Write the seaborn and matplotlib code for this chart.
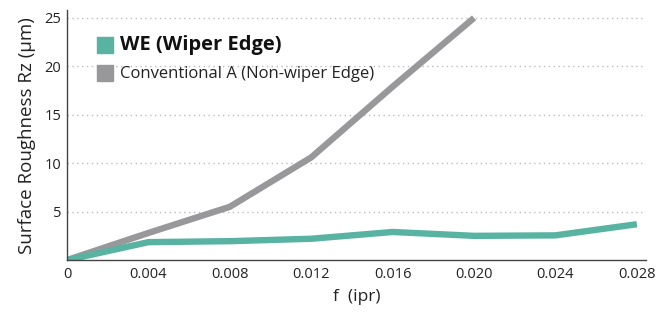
import matplotlib
matplotlib.use("Agg")
import matplotlib.pyplot as plt
import seaborn as sns
import pandas as pd
from matplotlib.lines import Line2D

feed = [0.0, 0.004, 0.008, 0.012, 0.016, 0.020, 0.024, 0.028]
we_values = [0.0, 1.85, 1.95, 2.2, 2.9, 2.5, 2.55, 3.7]
conv_feed = [0.0, 0.004, 0.008, 0.012, 0.016, 0.020]
conv_values = [0.0, 2.8, 5.5, 10.6, 17.9, 25.0]
series_names = ["WE (Wiper Edge)", "Conventional A (Non-wiper Edge)"]
colors = ["#58b3a3", "#98989b"]
x_ticks = [0.0, 0.004, 0.008, 0.012, 0.016, 0.020, 0.024, 0.028]
x_tick_labels = ["0", "0.004", "0.008", "0.012", "0.016", "0.020", "0.024", "0.028"]
y_ticks = [5, 10, 15, 20, 25]

sns.set_style("white")
plt.rcParams["font.family"] = ["Open Sans", "DejaVu Sans"]

df = pd.concat([
    pd.DataFrame({"f": conv_feed, "Rz": conv_values, "series": series_names[1]}),
    pd.DataFrame({"f": feed, "Rz": we_values, "series": series_names[0]}),
])

fig = plt.figure(figsize=(6.57, 3.16), dpi=100)
ax = fig.add_axes([0.102, 0.177, 0.881, 0.791])

for y in y_ticks:
    ax.axhline(y, color="#bbbbbb", lw=1.0, ls=(0, (1, 2.5)), zorder=0)

sns.lineplot(data=df, x="f", y="Rz", hue="series",
             palette={series_names[0]: colors[0], series_names[1]: colors[1]},
             linewidth=4.6, ax=ax, legend=False, sort=False)
for ln in ax.lines:
    ln.set_solid_capstyle("butt")

ax.set_xlim(0, 0.02844)
ax.set_ylim(0, 25.8)
ax.set_xticks(x_ticks)
ax.set_xticklabels(x_tick_labels)
ax.set_yticks(y_ticks)
ax.tick_params(axis="both", length=0, labelsize=10.5, colors="#222222")
ax.tick_params(axis="x", pad=5)
ax.tick_params(axis="y", pad=4)
for s in ["top", "right"]:
    ax.spines[s].set_visible(False)
for s in ["left", "bottom"]:
    ax.spines[s].set_color("#444444")
    ax.spines[s].set_linewidth(1.0)

ax.set_xlabel("f  (ipr)", fontsize=12.5, color="#222222", labelpad=5)
ax.set_ylabel("Surface Roughness Rz (µm)", fontsize=13.5, color="#222222", labelpad=6)

handles = [Line2D([], [], marker="s", ls="none", markersize=11, color=c) for c in colors]
leg = ax.legend(handles, series_names, loc="upper left", bbox_to_anchor=(0.037, 0.922),
                frameon=False, handletextpad=0.25, labelspacing=0.8, borderaxespad=0,
                handlelength=1.6)
t0, t1 = leg.get_texts()
t0.set_fontweight("bold"); t0.set_fontsize(14.5); t0.set_color("#111111")
t1.set_fontsize(12); t1.set_color("#222222")

fig.savefig("out.png", dpi=100)
